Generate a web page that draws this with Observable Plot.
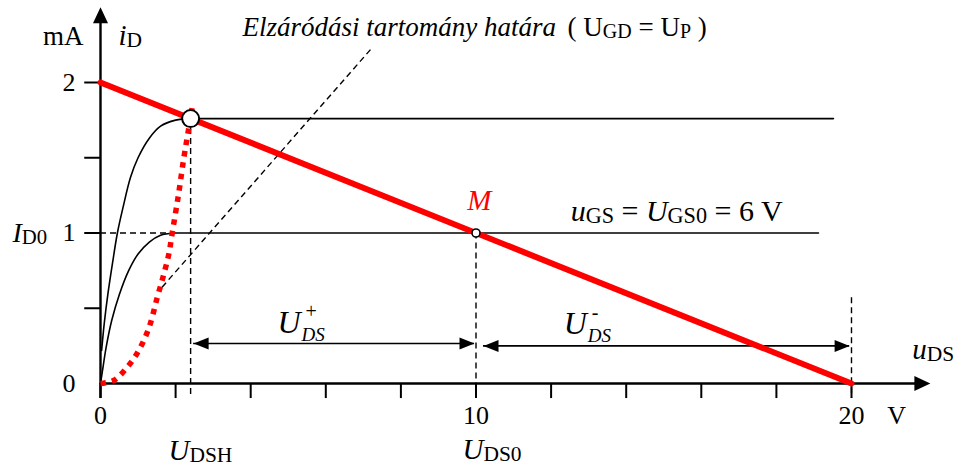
<!DOCTYPE html>
<html>
<head>
<meta charset="utf-8">
<script src="https://cdn.jsdelivr.net/npm/d3@7"></script>
<script src="https://cdn.jsdelivr.net/npm/@observablehq/plot@0.6"></script>
<style>
  body { margin: 0; background: #fff; }
  #chart svg { display: block; }
</style>
</head>
<body>
<div id="chart"></div>
<script>
// JFET output characteristics with the load line and the operating point M.
// u_DS in volts, i_D in milliamps.

// Axis ticks and their labels
const xTicks = [0, 2, 4, 6, 8, 10, 12, 14, 16, 18, 20];
const yTicks = [0.5, 1, 1.5, 2];
const xTickLabels = [0, 10, 20];
const yTickLabels = [0, 1, 2];

// Upper characteristic (rising part, then saturation)
const upperU = [0.03, 0.1, 0.2, 0.32, 0.45, 0.6, 0.8, 1.0, 1.3, 1.6, 2.0, 2.4];
const upperI = [0.22, 0.4, 0.6, 0.8, 1.0, 1.17, 1.37, 1.5, 1.63, 1.71, 1.75, 1.76];
const upperFlatU = [2.4, 19.52];

// Characteristic for u_GS = U_GS0 = 6 V
const lowerU = [0, 0.05, 0.15, 0.3, 0.5, 0.75, 1.0, 1.3, 1.6, 1.95];
const lowerI = [0, 0.08, 0.24, 0.42, 0.59, 0.75, 0.86, 0.94, 0.985, 1.0];
const lowerFlatU = [1.95, 19.12];

// Pinch-off parabola (dotted red)
const pinchU = [0, 0.35, 0.75, 1.02, 1.29, 1.51, 1.69, 1.82, 1.91, 2.08, 2.22, 2.34, 2.44];
const pinchI = [0, 0.02, 0.12, 0.22, 0.37, 0.57, 0.73, 0.86, 1.0, 1.26, 1.5, 1.68, 1.83];

// Boundary of the pinch-off region (U_GD = U_P)
const boundaryU = [1.64, 7.23];
const boundaryI = [0.64, 2.23];

// Load line
const loadU = [0, 20];
const loadI = [2, 0];

// Operating point M and the saturation point
const mU = 10, mI = 1;
const satU = 2.4, satI = 1.76;

// Voltage ranges on both sides of U_DS0
const swingPlus = {u1: 2.48, u2: 9.96, i: 0.266};
const swingMinus = {u1: 10.2, u2: 19.95, i: 0.25};
const swingEndU = 20;
const swingEndI = 0.57;

// Labels of the two ranges: U with a +/- superscript over a DS subscript
const swingLabels = [
  {u: 5.3, i: 0.335, sign: "+"},
  {u: 12.92, i: 0.33, sign: "-"}
];

const pts = (us, is) => us.map((u, k) => ({u, i: is[k]}));

// Filled arrowheads whose tip sits at the anchor point, pointing right
const arrowHead = (len, half) => ({
  draw(ctx) {
    ctx.moveTo(0, 0);
    ctx.lineTo(-len, -half);
    ctx.lineTo(-len, half);
    ctx.closePath();
  }
});
const axisHead = arrowHead(16, 7.5);
const dimHead = arrowHead(15, 6);

const serif = "Liberation Serif, Times New Roman, serif";
const dash = "6,4";

const chart = Plot.plot({
  width: 955,
  height: 466,
  marginLeft: 100,
  marginRight: 104,
  marginTop: 82,
  marginBottom: 83,
  x: {domain: [0, 20], axis: null},
  y: {domain: [0, 2], axis: null},
  style: {fontFamily: serif, background: "#fff", color: "#000", overflow: "visible"},
  marks: [
    // characteristics
    Plot.line(pts(upperU, upperI), {x: "u", y: "i", curve: "catmull-rom", stroke: "#000", strokeWidth: 1.6}),
    Plot.line(pts(upperFlatU, [satI, satI]), {x: "u", y: "i", stroke: "#000", strokeWidth: 1.6}),
    Plot.line(pts(lowerU, lowerI), {x: "u", y: "i", curve: "catmull-rom", stroke: "#000", strokeWidth: 1.6}),
    Plot.line(pts(lowerFlatU, [mI, mI]), {x: "u", y: "i", stroke: "#000", strokeWidth: 1.6}),

    // dashed guides
    Plot.line(pts(boundaryU, boundaryI), {x: "u", y: "i", stroke: "#000", strokeWidth: 1.4, strokeDasharray: dash, strokeLinecap: "butt"}),
    Plot.ruleY([mI], {x1: 0, x2: 1.9, stroke: "#000", strokeWidth: 1.4, strokeDasharray: dash}),
    Plot.ruleX([satU], {y1: satI, y2: -0.1, stroke: "#000", strokeWidth: 1.4, strokeDasharray: dash}),
    Plot.ruleX([mU], {y1: mI, y2: -0.1, stroke: "#000", strokeWidth: 1.4, strokeDasharray: dash}),
    Plot.ruleX([swingEndU], {y1: swingEndI, y2: -0.1, stroke: "#000", strokeWidth: 1.4, strokeDasharray: dash}),

    // axes
    Plot.ruleX([0], {y1: -0.1, y2: 2.45, stroke: "#000", strokeWidth: 2.4}),
    Plot.ruleY([0], {x1: 0, x2: 22.0, stroke: "#000", strokeWidth: 2.4}),
    Plot.ruleX(xTicks, {y1: 0, y2: -0.1, stroke: "#000", strokeWidth: 2}),
    Plot.ruleY(yTicks, {x1: -0.42, x2: 0, stroke: "#000", strokeWidth: 2}),
    Plot.dot([{u: 0, i: 2.5}], {x: "u", y: "i", symbol: axisHead, rotate: -90, fill: "#000", stroke: "none"}),
    Plot.dot([{u: 22.1, i: 0}], {x: "u", y: "i", symbol: axisHead, rotate: 0, fill: "#000", stroke: "none"}),

    // dimension arrows
    Plot.ruleY([swingPlus], {x1: "u1", x2: "u2", y: "i", stroke: "#000", strokeWidth: 1.6}),
    Plot.ruleY([swingMinus], {x1: "u1", x2: "u2", y: "i", stroke: "#000", strokeWidth: 1.6}),
    Plot.dot([
      {u: swingPlus.u1, i: swingPlus.i, a: 180}, {u: swingPlus.u2, i: swingPlus.i, a: 0},
      {u: swingMinus.u1, i: swingMinus.i, a: 180}, {u: swingMinus.u2, i: swingMinus.i, a: 0}
    ], {x: "u", y: "i", rotate: "a", symbol: dimHead, fill: "#000", stroke: "none"}),

    // load line and pinch-off curve
    Plot.line(pts(loadU, loadI), {x: "u", y: "i", stroke: "#ff0000", strokeWidth: 6}),
    Plot.line(pts(pinchU, pinchI), {x: "u", y: "i", curve: "catmull-rom", stroke: "#ff0000", strokeWidth: 5.5, strokeDasharray: "5.5,6", strokeLinecap: "butt"}),

    // points
    Plot.dot([{u: satU, i: satI}], {x: "u", y: "i", r: 8.5, fill: "#fff", stroke: "#000", strokeWidth: 2}),
    Plot.dot([{u: mU, i: mI}], {x: "u", y: "i", r: 4, fill: "#fff", stroke: "#000", strokeWidth: 1.6}),

    // tick labels
    Plot.text(yTickLabels, {x: 0, y: d => d, text: d => String(d), dx: -25, textAnchor: "end", lineAnchor: "middle", fontSize: 26}),
    Plot.text(xTickLabels, {x: d => d, y: 0, text: d => String(d), dy: 40, textAnchor: "middle", lineAnchor: "bottom", fontSize: 26}),
    Plot.text(["V"], {x: 21.2, y: 0, text: d => d, dy: 40, textAnchor: "middle", lineAnchor: "bottom", fontSize: 26}),

    // axis names
    Plot.text(["mA"], {x: 0, y: 2.25, text: d => d, dx: -17, textAnchor: "end", lineAnchor: "bottom", fontSize: 27}),
    Plot.text(["*i*_{D}"], {x: 0, y: 2.25, text: d => d, dx: 18, textAnchor: "start", lineAnchor: "bottom", fontSize: 29}),
    Plot.text(["*u*_{DS}"], {x: 21.62, y: 0.166, text: d => d, textAnchor: "start", lineAnchor: "bottom", fontSize: 29}),
    Plot.text(["*I*_{D0}"], {x: 0, y: mI, text: d => d, dx: -88, textAnchor: "start", lineAnchor: "middle", fontSize: 28}),
    Plot.text(["*U*_{DSH}"], {x: 1.81, y: -0.505, text: d => d, textAnchor: "start", lineAnchor: "bottom", fontSize: 29}),
    Plot.text(["*U*_{DS0}"], {x: 9.64, y: -0.5, text: d => d, textAnchor: "start", lineAnchor: "bottom", fontSize: 29}),

    // annotations
    Plot.text(["Elzáródási tartomány határa"], {x: 3.78, y: 2.312, text: d => d, textAnchor: "start", lineAnchor: "bottom", fontSize: 27, fontStyle: "italic"}),
    Plot.text(["( U_{GD} = U_{P} )"], {x: 12.44, y: 2.312, text: d => d, textAnchor: "start", lineAnchor: "bottom", fontSize: 27}),
    Plot.text(["M"], {x: 10.09, y: 1.15, text: d => d, textAnchor: "middle", lineAnchor: "bottom", fontSize: 29, fontStyle: "italic", fill: "#ff0000"}),
    Plot.text(["*u*_{GS} = *U*_{GS0} = 6 V"], {x: 12.52, y: 1.083, text: d => d, textAnchor: "start", lineAnchor: "bottom", fontSize: 30}),

    // U_DS+ and U_DS- (stacked scripts are laid out below)
    Plot.text(swingLabels, {x: "u", y: "i", text: d => `U${d.sign}DS`, dx: -22, textAnchor: "start", lineAnchor: "bottom", fontSize: 32})
  ]
});

document.getElementById("chart").appendChild(chart);

// Turn *italic*, _{sub} and ^{sup} markup into tspans
d3.select(chart).selectAll("text").each(function () {
  const s = this.textContent;
  const stacked = s.match(/^U([+-])DS$/);
  if (stacked) {
    // italic U, the sign raised, DS lowered and moved back under the sign
    this.textContent = "";
    const sel = d3.select(this);
    sel.append("tspan").attr("font-style", "italic").text("U");
    const sign = sel.append("tspan").attr("font-size", 20).attr("dx", 5).attr("dy", -15).text(stacked[1]);
    const w = sign.node().getComputedTextLength();
    sel.append("tspan").attr("font-size", 19).attr("font-style", "italic")
      .attr("dx", -w - 4).attr("dy", 23).text("DS");
    return;
  }
  if (!/[*]|_\{|\^\{/.test(s)) return;
  const parts = s.match(/\*[^*]+\*|_\{[^}]*\}|\^\{[^}]*\}|[^*_^]+/g);
  this.textContent = "";
  let shift = 0;
  for (const p of parts) {
    const t = d3.select(this).append("tspan");
    let target = 0, txt = p;
    if (p.startsWith("*")) {
      t.attr("font-style", "italic");
      txt = p.slice(1, -1);
    } else if (p.startsWith("_{")) {
      t.attr("font-size", "0.74em");
      target = 2;
      txt = p.slice(2, -1);
    } else if (p.startsWith("^{")) {
      t.attr("font-size", "0.74em");
      target = -9;
      txt = p.slice(2, -1);
    }
    if (target !== shift) t.attr("dy", target - shift);
    shift = target;
    t.text(txt);
  }
});
</script>
</body>
</html>
